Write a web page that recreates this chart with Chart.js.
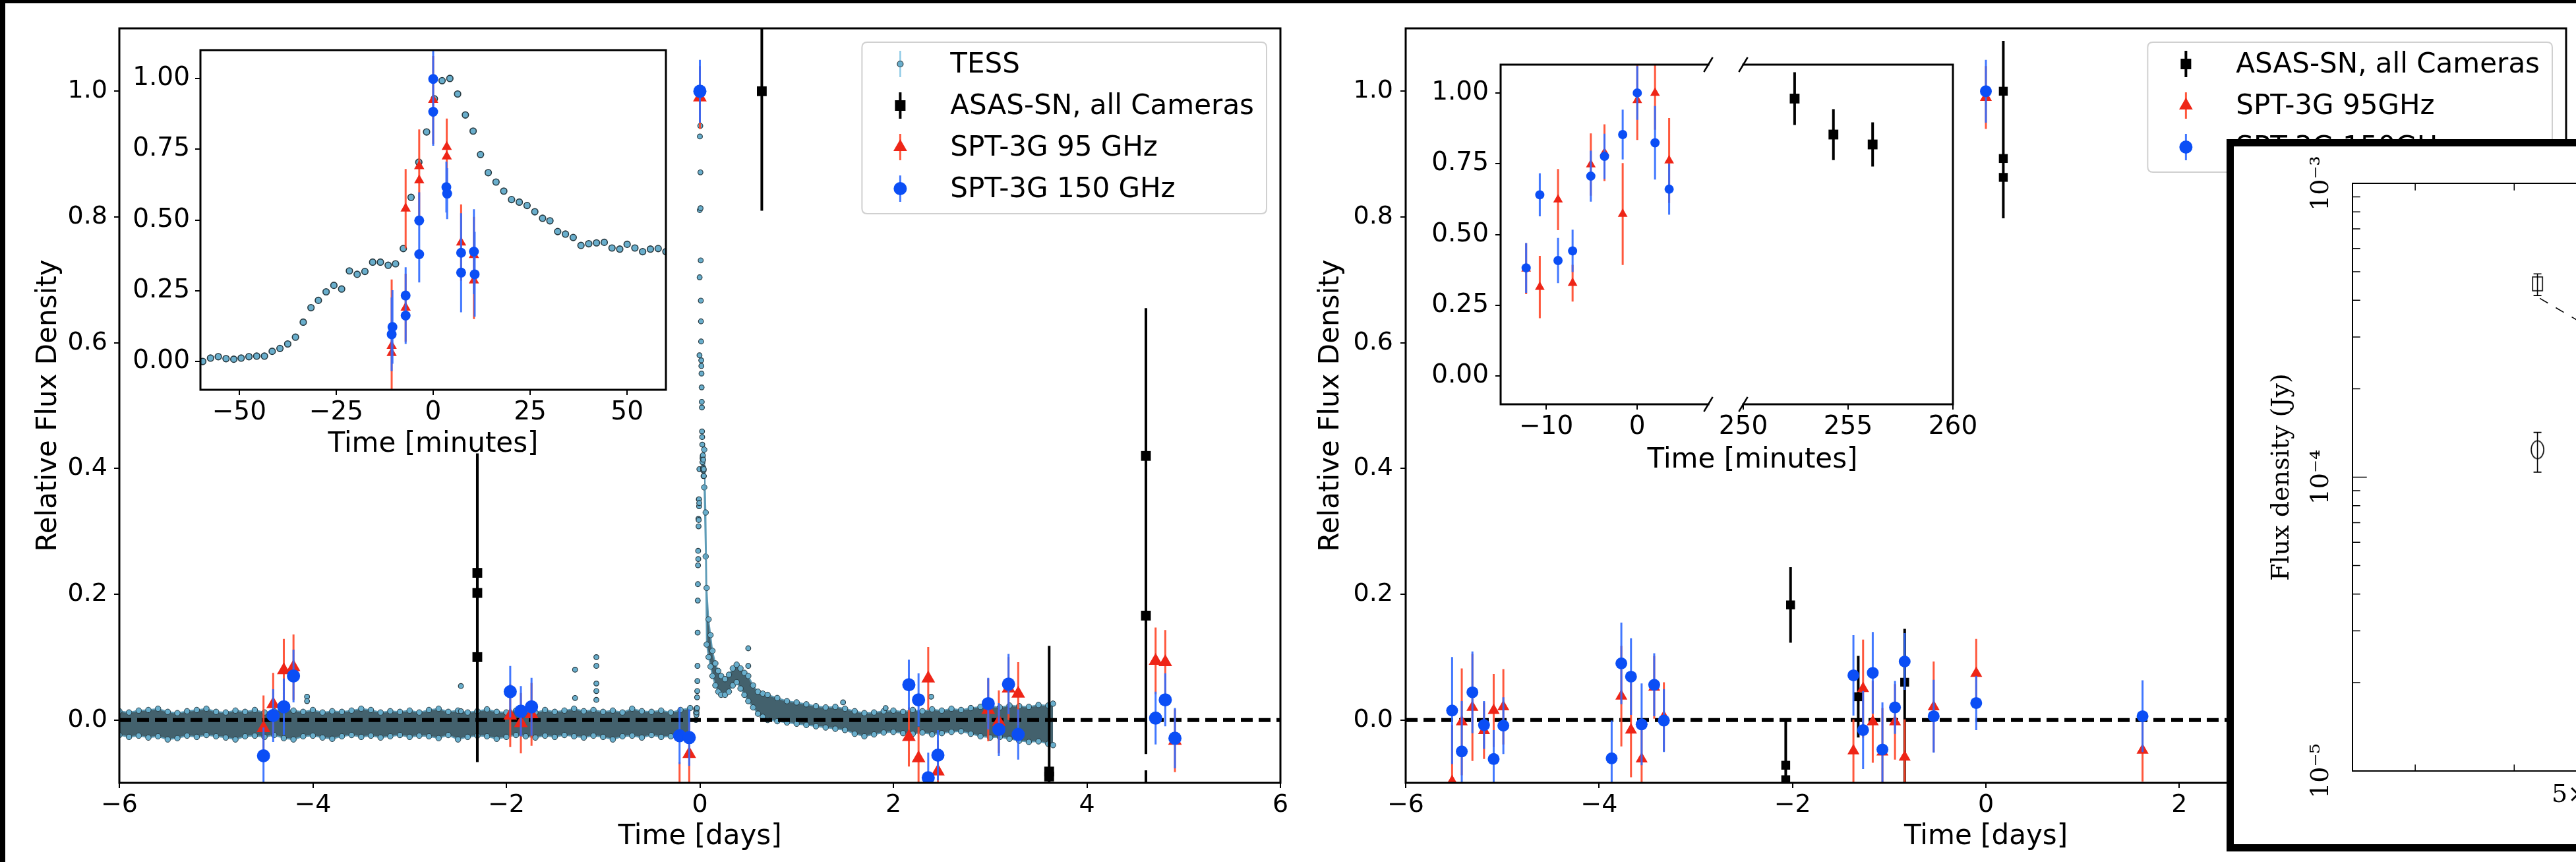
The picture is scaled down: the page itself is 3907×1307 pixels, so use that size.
<!DOCTYPE html>
<html>
<head>
<meta charset="utf-8">
<title>Flare light curves</title>
<script src="https://cdn.jsdelivr.net/npm/chart.js"></script>
<style>
  html, body { margin: 0; padding: 0; background: #fff; }
  body { position: relative; width: 3907px; height: 1307px; overflow: hidden; font-family: 'DejaVu Sans', sans-serif; }
  canvas { position: absolute; }
  .edge { position: absolute; background: #000; z-index: 30; }
  #sed { position: absolute; left: 3377px; top: 211px; width: 640px; height: 1058px; border: 11px solid #000; border-right: 0; background: #fff; overflow: hidden; z-index: 20; }
  #sed canvas { left: 0; top: 0; }
  #insetTitle { position: absolute; left: 2658px; top: 695px; transform: translate(-50%, -50%); font-size: 42px; line-height: 1; white-space: nowrap; color: #000; z-index: 5; }
</style>
</head>
<body>
<canvas id="mainL" width="1990" height="1307" style="left:0;top:0"></canvas>
<canvas id="mainR" width="1922" height="1307" style="left:1990px;top:0"></canvas>
<canvas id="insetL" width="840" height="674" style="left:190px;top:36px"></canvas>
<canvas id="insetRa" width="460" height="602" style="left:2160px;top:58px"></canvas>
<canvas id="insetRb" width="410" height="602" style="left:2600px;top:58px"></canvas>
<div id="insetTitle">Time [minutes]</div>
<div id="sed"><canvas id="sedChart" width="912" height="1058"></canvas></div>
<div class="edge" style="left:0;top:0;width:3907px;height:5px"></div>
<div class="edge" style="left:0;top:0;width:8px;height:1307px"></div>
<script>
// ---------- data: left panel (days) ----------
const tessBaseDay = [-6.0, -5.9, -5.8, -5.7, -5.6, -5.5, -5.4, -5.3, -5.2, -5.1,
  -5.0, -4.9, -4.8, -4.7, -4.6, -4.5, -4.4, -4.3, -4.2, -4.1,
  -4.0, -3.9, -3.8, -3.7, -3.6, -3.5, -3.4, -3.3, -3.2, -3.1,
  -3.0, -2.9, -2.8, -2.7, -2.6, -2.5, -2.4, -2.3, -2.2, -2.1,
  -2.0, -1.9, -1.8, -1.7, -1.6, -1.5, -1.4, -1.3, -1.2, -1.1,
  -1.0, -0.9, -0.8, -0.7, -0.6, -0.5, -0.4, -0.3, -0.2, -0.1];
const tessBaseHi = [0.014, 0.012, 0.015, 0.016, 0.018, 0.013, 0.011, 0.014, 0.016, 0.018,
  0.013, 0.012, 0.015, 0.013, 0.016, 0.012, 0.014, 0.018, 0.015, 0.013,
  0.016, 0.012, 0.014, 0.013, 0.015, 0.018, 0.016, 0.012, 0.014, 0.013,
  0.015, 0.012, 0.016, 0.018, 0.013, 0.015, 0.012, 0.014, 0.017, 0.013,
  0.012, 0.015, 0.014, 0.012, 0.016, 0.013, 0.015, 0.018, 0.014, 0.016,
  0.013, 0.015, 0.012, 0.018, 0.014, 0.013, 0.015, 0.012, 0.016, 0.019];
const tessBaseLo = [-0.024, -0.027, -0.025, -0.028, -0.026, -0.031, -0.029, -0.025, -0.027, -0.024,
  -0.026, -0.028, -0.031, -0.026, -0.025, -0.027, -0.024, -0.029, -0.031, -0.026,
  -0.025, -0.028, -0.030, -0.026, -0.024, -0.027, -0.025, -0.028, -0.026, -0.024,
  -0.027, -0.025, -0.026, -0.029, -0.024, -0.031, -0.027, -0.025, -0.026, -0.030,
  -0.027, -0.024, -0.026, -0.028, -0.025, -0.027, -0.024, -0.026, -0.028, -0.025,
  -0.027, -0.031, -0.026, -0.025, -0.028, -0.024, -0.027, -0.026, -0.029, -0.025];
const tessTailDay = [0.045, 0.06, 0.07, 0.09, 0.11, 0.13, 0.16, 0.19, 0.22, 0.26,
  0.30, 0.34, 0.38, 0.42, 0.46, 0.50, 0.55, 0.60, 0.65, 0.70,
  0.80, 0.90, 1.0, 1.1, 1.2, 1.3, 1.4, 1.5, 1.6, 1.7,
  1.8, 1.9, 2.0, 2.1, 2.2, 2.3, 2.4, 2.5, 2.6, 2.7,
  2.8, 2.9, 3.0, 3.1, 3.2, 3.3, 3.4, 3.5, 3.6, 3.65];
const tessTailHi = [0.43, 0.33, 0.21, 0.16, 0.135, 0.11, 0.09, 0.078, 0.07, 0.065,
  0.072, 0.082, 0.088, 0.082, 0.075, 0.07, 0.055, 0.045, 0.042, 0.04,
  0.035, 0.03, 0.028, 0.025, 0.022, 0.02, 0.021, 0.018, 0.014, 0.011,
  0.012, 0.014, 0.015, 0.013, 0.016, 0.014, 0.017, 0.015, 0.018, 0.016,
  0.019, 0.021, 0.022, 0.020, 0.023, 0.022, 0.021, 0.024, 0.023, 0.026];
const tessTailLo = [0.37, 0.26, 0.12, 0.10, 0.085, 0.07, 0.055, 0.045, 0.04, 0.04,
  0.045, 0.055, 0.06, 0.05, 0.04, 0.03, 0.02, 0.01, 0.005, 0.0,
  -0.002, -0.004, -0.006, -0.008, -0.010, -0.012, -0.014, -0.016, -0.022, -0.026,
  -0.023, -0.020, -0.019, -0.021, -0.022, -0.020, -0.023, -0.021, -0.019, -0.018,
  -0.022, -0.026, -0.028, -0.027, -0.030, -0.033, -0.035, -0.034, -0.038, -0.040];
const tessOutDay = [-4.06, -4.06, -2.47, -2.47, -1.29, -1.29, -1.07, -1.07, -1.07, -1.07, -1.07, 0.50, 0.50, 1.48, 1.92, 2.39];
const tessOutFlux = [0.037, 0.030, 0.054, 0.014, 0.080, 0.035, 0.100, 0.086, 0.058, 0.046, 0.032, 0.114, 0.086, 0.028, 0.019, 0.037];

// TESS around the peak, minutes from the flare
const tessMin = [-59.4, -57.4, -55.4, -53.4, -51.4, -49.5, -47.5, -45.5, -43.5, -41.5,
  -39.5, -37.5, -35.5, -33.5, -31.5, -29.6, -27.6, -25.6, -23.6, -21.6,
  -19.6, -17.6, -15.6, -13.6, -11.6, -9.7, -7.7, -5.7, -3.7, -1.7,
  0.3, 2.3, 4.3, 6.3, 8.3, 10.3, 12.2, 14.2, 16.2, 18.2,
  20.2, 22.2, 24.2, 26.2, 28.2, 30.1, 32.1, 34.1, 36.1, 38.1,
  40.1, 42.1, 44.1, 46.1, 48.1, 50.0, 52.0, 54.0, 56.0, 58.0, 60.0];
const tessFlux = [0.000, 0.012, 0.017, 0.010, 0.008, 0.012, 0.017, 0.019, 0.019, 0.036,
  0.046, 0.062, 0.086, 0.139, 0.190, 0.216, 0.246, 0.269, 0.256, 0.320,
  0.308, 0.318, 0.351, 0.351, 0.340, 0.345, 0.399, 0.580, 0.704, 0.811,
  0.928, 0.992, 1.000, 0.945, 0.871, 0.814, 0.731, 0.667, 0.634, 0.602,
  0.572, 0.563, 0.551, 0.529, 0.506, 0.497, 0.459, 0.450, 0.438, 0.410,
  0.416, 0.419, 0.421, 0.401, 0.397, 0.414, 0.401, 0.388, 0.397, 0.399, 0.388];

const asasDayL = [-2.30, -2.30, -2.30, 0.64, 3.61, 3.61, 4.61, 4.61, 4.61];
const asasFluxL = [0.234, 0.202, 0.100, 1.0, -0.082, -0.090, 0.420, 0.166, -0.30];
const asasErrL = [0.19, 0.20, 0.167, 0.19, 0.20, 0.20, 0.235, 0.22, 0.22];

const sptDayL = [-4.51, -4.41, -4.30, -4.20, -1.96, -1.85, -1.74, -0.21, -0.11, 0.0, 2.16, 2.26, 2.36, 2.46, 2.98, 3.09, 3.19, 3.29, 4.71, 4.81, 4.91];
const spt95FluxL = [-0.013, 0.025, 0.079, 0.084, 0.007, -0.005, 0.009, -0.125, -0.054, 0.99, -0.027, -0.061, 0.066, -0.082, 0.016, -0.003, 0.050, 0.042, 0.094, 0.092, -0.033];
const spt95ErrL = [0.052, 0.05, 0.05, 0.052, 0.05, 0.048, 0.05, 0.058, 0.05, 0.05, 0.047, 0.05, 0.05, 0.05, 0.05, 0.05, 0.05, 0.05, 0.053, 0.051, 0.05];
const spt150FluxL = [-0.057, 0.007, 0.021, 0.070, 0.045, 0.014, 0.021, -0.025, -0.028, 1.0, 0.056, 0.032, -0.092, -0.056, 0.026, -0.015, 0.057, -0.023, 0.003, 0.032, -0.029];
const spt150ErrL = [0.045, 0.042, 0.045, 0.042, 0.041, 0.04, 0.046, 0.045, 0.045, 0.05, 0.04, 0.042, 0.04, 0.04, 0.041, 0.042, 0.048, 0.04, 0.042, 0.042, 0.048];

const spt95MinL = [-10.7, -10.7, -7.1, -7.1, -3.6, -3.6, 0.0, 3.5, 3.5, 7.2, 10.5, 10.5];
const spt95InsetL = [0.055, 0.030, 0.540, 0.190, 0.690, 0.640, 0.924, 0.758, 0.724, 0.420, 0.376, 0.286];
const spt95InsetErrL = [0.235, 0.20, 0.14, 0.12, 0.13, 0.13, 0.155, 0.10, 0.10, 0.135, 0.135, 0.136];
const spt150MinL = [-10.7, -10.5, -7.1, -7.1, -3.6, -3.6, 0.0, 0.0, 3.4, 3.6, 7.2, 7.2, 10.5, 10.7];
const spt150InsetL = [0.096, 0.122, 0.233, 0.162, 0.498, 0.379, 0.998, 0.882, 0.616, 0.593, 0.384, 0.314, 0.388, 0.308];
const spt150InsetErrL = [0.13, 0.13, 0.10, 0.10, 0.10, 0.10, 0.12, 0.12, 0.09, 0.09, 0.14, 0.14, 0.15, 0.15];

// ---------- data: right panel ----------
const asasDayR = [-2.02, -2.07, -2.07, -1.32, -0.84, -0.84, 0.18, 0.18, 0.18];
const asasFluxR = [0.183, -0.072, -0.095, 0.037, 0.060, -0.13, 1.0, 0.893, 0.863];
const asasErrR = [0.06, 0.072, 0.07, 0.065, 0.085, 0.11, 0.08, 0.08, 0.065];
const spt95DayR = [-5.52, -5.42, -5.31, -5.19, -5.09, -4.99, -3.77, -3.67, -3.56, -3.43, -3.33, -1.37, -1.27, -1.17, -1.07, -0.94, -0.84, -0.54, -0.10, 0.0, 1.62];
const spt95FluxR = [-0.098, -0.003, 0.020, -0.017, 0.015, 0.021, 0.038, -0.016, -0.062, 0.052, 0.005, -0.049, 0.050, -0.003, -0.051, -0.003, -0.059, 0.021, 0.074, 0.99, -0.048];
const spt95ErrR = [0.09, 0.085, 0.085, 0.045, 0.058, 0.06, 0.08, 0.075, 0.06, 0.05, 0.055, 0.05, 0.078, 0.065, 0.07, 0.06, 0.06, 0.072, 0.055, 0.05, 0.05];
const spt150DayR = [-5.52, -5.42, -5.31, -5.19, -5.09, -4.99, -3.87, -3.77, -3.67, -3.56, -3.43, -3.33, -1.37, -1.27, -1.17, -1.07, -0.94, -0.84, -0.54, -0.10, 0.0, 1.62];
const spt150FluxR = [0.015, -0.050, 0.044, -0.008, -0.062, -0.009, -0.061, 0.090, 0.069, -0.007, 0.056, -0.001, 0.071, -0.016, 0.075, -0.047, 0.020, 0.093, 0.006, 0.027, 1.0, 0.006];
const spt150ErrR = [0.085, 0.08, 0.065, 0.038, 0.046, 0.045, 0.06, 0.065, 0.061, 0.065, 0.05, 0.05, 0.064, 0.062, 0.065, 0.075, 0.042, 0.045, 0.058, 0.043, 0.05, 0.057];

const sptMinR = [-12.2, -10.7, -8.7, -7.1, -5.1, -3.6, -1.6, 0.0, 1.95, 3.5];
const spt95InsetR = [0.379, 0.314, 0.623, 0.328, 0.747, 0.789, 0.572, 0.974, 1.0, 0.761];
const spt95InsetErrR = [0.09, 0.11, 0.108, 0.065, 0.11, 0.10, 0.18, 0.14, 0.13, 0.15];
const spt150InsetR = [0.382, 0.640, 0.408, 0.442, 0.706, 0.776, 0.853, 1.0, 0.824, 0.660];
const spt150InsetErrR = [0.088, 0.076, 0.08, 0.075, 0.09, 0.08, 0.088, 0.095, 0.13, 0.09];
const asasMinR = [252.45, 254.3, 256.17];
const asasInsetR = [0.98, 0.853, 0.818];
const asasInsetErrR = [0.093, 0.09, 0.078];

// ---------- data: radio spectrum overlay ----------
const sedFreq = [42.8];
const sedSquareFlux = [4.55e-4], sedSquareLo = [4.15e-4], sedSquareHi = [4.92e-4];
const sedCircleFlux = [1.24e-4], sedCircleLo = [1.04e-4], sedCircleHi = [1.42e-4];
const sedModelFreq = [43.1, 60];
const sedModelFlux = [4.06e-4, 2.41e-4];

// ---------- tick values ----------
const dayTicks = [-6, -4, -2, 0, 2, 4, 6];
const relTicks = [0, 0.2, 0.4, 0.6, 0.8, 1.0];
const insetRelTicks = [0, 0.25, 0.5, 0.75, 1.0];
const minTicksL = [-50, -25, 0, 25, 50];
const minTicksRa = [-10, 0];
const minTicksRb = [250, 255, 260];
const freqTicks = [30, 40, 50, 60, 70, 80];
const fluxTicks = [1e-5, 2e-5, 3e-5, 4e-5, 5e-5, 6e-5, 7e-5, 8e-5, 9e-5,
  1e-4, 2e-4, 3e-4, 4e-4, 5e-4, 6e-4, 7e-4, 8e-4, 9e-4, 1e-3];

// ---------- styling ----------
const SANS = "'DejaVu Sans', sans-serif";
const SERIF = "'DejaVu Serif', serif";
Chart.defaults.font.family = SANS;
Chart.defaults.color = '#000';

const TESS_FILL = '#69aecc', TESS_EDGE = '#26383f', TESS_BAND = '#43616d', TESS_LINE = '#5e9cb7';
const RED = '#ee2517', RED_BAR = 'rgba(255,70,40,0.9)';
const BLUE = '#0b4ef5', BLUE_BAR = 'rgba(45,105,255,0.9)';

const pts = (xs, ys, es) => xs.map((x, i) => ({x, y: ys[i], e: es ? es[i] : 0}));
const minus = v => String(v).replace('-', '\u2212');
const sup = {'-': '\u207b', '0': '\u2070', '1': '\u00b9', '2': '\u00b2', '3': '\u00b3', '4': '\u2074', '5': '\u2075'};
function powLabel(v) {
  const e = Math.log10(v);
  if (Math.abs(e - Math.round(e)) > 1e-6) return '';
  return '10' + String(Math.round(e)).split('').map(c => sup[c]).join('');
}

// ---------- plugins ----------
const errorBars = {
  id: 'errorBars',
  beforeDatasetDraw(chart, args) {
    const ds = chart.data.datasets[args.index];
    if (!ds.errorColor) return;
    const xs = chart.scales[args.meta.xAxisID], ys = chart.scales[args.meta.yAxisID];
    const a = chart.chartArea, ctx = chart.ctx, cap = ds.capWidth || 0;
    ctx.save();
    ctx.beginPath();
    ctx.rect(a.left, a.top, a.right - a.left, a.bottom - a.top);
    ctx.clip();
    ctx.strokeStyle = ds.errorColor;
    ctx.lineWidth = ds.errorWidth || 3;
    ctx.beginPath();
    ds.data.forEach(p => {
      const lo = p.lo !== undefined ? p.lo : p.y - p.e;
      const hi = p.hi !== undefined ? p.hi : p.y + p.e;
      const px = xs.getPixelForValue(p.x);
      const y0 = ys.getPixelForValue(lo), y1 = ys.getPixelForValue(hi);
      ctx.moveTo(px, y0); ctx.lineTo(px, y1);
      if (cap) {
        ctx.moveTo(px - cap, y0); ctx.lineTo(px + cap, y0);
        ctx.moveTo(px - cap, y1); ctx.lineTo(px + cap, y1);
      }
    });
    ctx.stroke();
    ctx.restore();
  }
};

const frame = {
  id: 'frame',
  beforeDraw(chart, args, o) {
    if (!o.fill) return;
    const a = chart.chartArea, ctx = chart.ctx;
    ctx.save();
    ctx.fillStyle = o.fill;
    ctx.fillRect(a.left, a.top, a.right - a.left, a.bottom - a.top);
    ctx.restore();
  },
  afterDraw(chart, args, o) {
    const a = chart.chartArea, ctx = chart.ctx, s = o.sides || 'ltrb';
    ctx.save();
    ctx.strokeStyle = '#000';
    ctx.lineWidth = o.width || 3;
    ctx.lineCap = 'square';
    ctx.beginPath();
    if (s.includes('l')) { ctx.moveTo(a.left, a.top); ctx.lineTo(a.left, a.bottom); }
    if (s.includes('r')) { ctx.moveTo(a.right, a.top); ctx.lineTo(a.right, a.bottom); }
    if (s.includes('t')) { ctx.moveTo(a.left, a.top); ctx.lineTo(a.right, a.top); }
    if (s.includes('b')) { ctx.moveTo(a.left, a.bottom); ctx.lineTo(a.right, a.bottom); }
    ctx.stroke();
    // broken-axis marks
    if (o.breakAt) {
      const x = o.breakAt === 'right' ? a.right : a.left;
      ctx.lineWidth = 2.5;
      ctx.beginPath();
      [a.top, a.bottom].forEach(y => { ctx.moveTo(x - 6, y + 10); ctx.lineTo(x + 6, y - 10); });
      ctx.stroke();
    }
    // inward ticks (radio spectrum)
    if (o.inward) {
      const {x, y} = chart.scales;
      ctx.lineWidth = 1.5;
      ctx.beginPath();
      x.ticks.forEach(t => {
        const px = x.getPixelForValue(t.value);
        if (px <= a.left || px >= a.right) return;
        ctx.moveTo(px, a.bottom); ctx.lineTo(px, a.bottom - 9);
        ctx.moveTo(px, a.top); ctx.lineTo(px, a.top + 10);
      });
      y.ticks.forEach(t => {
        const py = y.getPixelForValue(t.value);
        const len = powLabel(t.value) ? 21 : 11;
        ctx.moveTo(a.left, py); ctx.lineTo(a.left + len, py);
      });
      ctx.stroke();
    }
    ctx.restore();
  }
};

function drawKey(ctx, kind, x, y) {
  ctx.save();
  const bar = (c, w) => { ctx.strokeStyle = c; ctx.lineWidth = w; ctx.beginPath(); ctx.moveTo(x, y - 20); ctx.lineTo(x, y + 20); ctx.stroke(); };
  if (kind === 'tess') {
    bar('#8fcbe6', 2.5);
    ctx.beginPath(); ctx.arc(x, y, 4.5, 0, 2 * Math.PI);
    ctx.fillStyle = TESS_FILL; ctx.fill(); ctx.strokeStyle = TESS_EDGE; ctx.lineWidth = 1.2; ctx.stroke();
  } else if (kind === 'asas') {
    bar('#000', 4);
    ctx.fillStyle = '#000'; ctx.fillRect(x - 8, y - 8, 16, 16);
  } else if (kind === 'red') {
    bar(RED_BAR, 3);
    const r = 12;
    ctx.beginPath(); ctx.moveTo(x, y - r); ctx.lineTo(x + 0.866 * r, y + 0.5 * r); ctx.lineTo(x - 0.866 * r, y + 0.5 * r); ctx.closePath();
    ctx.fillStyle = RED; ctx.fill();
  } else {
    bar(BLUE_BAR, 3);
    ctx.beginPath(); ctx.arc(x, y, 10, 0, 2 * Math.PI); ctx.fillStyle = BLUE; ctx.fill();
  }
  ctx.restore();
}

const keyBox = {
  id: 'keyBox',
  afterDraw(chart, args, o) {
    if (!o.entries) return;
    const ctx = chart.ctx, a = chart.chartArea;
    ctx.save();
    ctx.font = '42px ' + SANS;
    const tw = Math.max(...o.entries.map(e => ctx.measureText(e.label).width));
    const w = 134 + tw + 19, h = o.entries.length * 63 + 8;
    const x0 = a.right - 21 - w, y0 = a.top + 21, r = 8;
    ctx.beginPath();
    ctx.moveTo(x0 + r, y0); ctx.lineTo(x0 + w - r, y0); ctx.quadraticCurveTo(x0 + w, y0, x0 + w, y0 + r);
    ctx.lineTo(x0 + w, y0 + h - r); ctx.quadraticCurveTo(x0 + w, y0 + h, x0 + w - r, y0 + h);
    ctx.lineTo(x0 + r, y0 + h); ctx.quadraticCurveTo(x0, y0 + h, x0, y0 + h - r);
    ctx.lineTo(x0, y0 + r); ctx.quadraticCurveTo(x0, y0, x0 + r, y0); ctx.closePath();
    ctx.fillStyle = 'rgba(255,255,255,0.85)'; ctx.fill();
    ctx.strokeStyle = '#d0d0d0'; ctx.lineWidth = 2; ctx.stroke();
    o.entries.forEach((e, i) => {
      const cy = y0 + 33 + i * 63;
      drawKey(ctx, e.kind, x0 + 58, cy);
      ctx.fillStyle = '#000'; ctx.textAlign = 'left'; ctx.textBaseline = 'middle';
      ctx.fillText(e.label, x0 + 134, cy + 2);
    });
    ctx.restore();
  }
};

// ---------- builders ----------
function axis(o) {
  const horizontal = o.pos === 'bottom';
  return {
    type: o.type || 'linear', position: o.pos, min: o.min, max: o.max, display: o.display !== false,
    afterBuildTicks: s => { s.ticks = o.ticks.map(v => ({value: v})); },
    afterFit: s => { if (horizontal) s.height = o.size; else s.width = o.size; },
    ticks: { autoSkip: false, padding: o.pad, font: {size: o.font, family: o.family}, color: '#000', callback: o.fmt,
      minRotation: o.rot || 0, maxRotation: o.rot || 0, crossAlign: o.cross || 'near' },
    grid: { display: !o.inward, drawOnChartArea: false, drawTicks: !o.inward, tickLength: 8, color: '#000', lineWidth: 2 },
    border: { display: false },
    title: o.title ? { display: true, text: o.title, color: '#000', font: {size: o.titleSize || 42, family: o.family}, padding: o.titlePad } : { display: false }
  };
}

function marks(data, color, style, r, order, bar, barW) {
  return { type: 'scatter', data, clip: 0, order, pointStyle: style, pointRadius: r, pointHoverRadius: r,
    backgroundColor: color, borderColor: color, borderWidth: 0, pointBorderWidth: 0,
    errorColor: bar, errorWidth: barW };
}

function makeChart(id, datasets, o) {
  return new Chart(document.getElementById(id), {
    type: 'scatter',
    data: { datasets },
    options: {
      responsive: false, animation: false, devicePixelRatio: 1, events: [],
      layout: { padding: o.padding },
      plugins: { legend: {display: false}, tooltip: {enabled: false}, frame: o.frame, keyBox: {entries: o.keys} },
      scales: { x: o.x, y: o.y }
    },
    plugins: [errorBars, frame, keyBox]
  });
}

function zeroLine() {
  return { type: 'line', data: [{x: dayTicks[0], y: 0}, {x: dayTicks[dayTicks.length - 1], y: 0}], clip: 0, order: 4,
    borderColor: '#000', borderWidth: 6, borderDash: [18, 9], pointRadius: 0, fill: false };
}

function tessEdge(xs, ys, fill) {
  return { type: 'line', data: pts(xs, ys), clip: 0, order: 6, tension: 0,
    borderColor: TESS_LINE, borderWidth: 2, pointRadius: 4.2, pointHoverRadius: 4.2,
    pointBackgroundColor: TESS_FILL, pointBorderColor: TESS_EDGE, pointBorderWidth: 1,
    fill: fill === undefined ? false : {target: fill}, backgroundColor: TESS_BAND };
}

const fmt1 = v => v.toFixed(1), fmt2 = v => v.toFixed(2);

// ---------- left panel ----------
makeChart('mainL', [
  tessEdge(tessBaseDay, tessBaseHi),
  tessEdge(tessBaseDay, tessBaseLo, 0),
  tessEdge(tessTailDay, tessTailHi),
  tessEdge(tessTailDay, tessTailLo, 2),
  { type: 'scatter', data: pts(tessMin.map(m => m / 1440), tessFlux).concat(pts(tessOutDay, tessOutFlux)), clip: 0, order: 5,
    pointRadius: 3.8, pointHoverRadius: 3.8, backgroundColor: TESS_FILL, borderColor: TESS_EDGE, pointBorderWidth: 1.2 },
  zeroLine(),
  marks(pts(asasDayL, asasFluxL, asasErrL), '#000', 'rect', 10.5, 3, '#000', 4),
  marks(pts(sptDayL, spt95FluxL, spt95ErrL), RED, 'triangle', 12, 2, RED_BAR, 3),
  marks(pts(sptDayL, spt150FluxL, spt150ErrL), BLUE, 'circle', 10, 1, BLUE_BAR, 3)
], {
  padding: {left: 0, top: 43, right: 48, bottom: 0},
  frame: {sides: 'ltrb', width: 3},
  keys: [{label: 'TESS', kind: 'tess'}, {label: 'ASAS-SN, all Cameras', kind: 'asas'},
         {label: 'SPT-3G 95 GHz', kind: 'red'}, {label: 'SPT-3G 150 GHz', kind: 'blue'}],
  x: axis({pos: 'bottom', min: -6, max: 6, ticks: dayTicks, fmt: minus, size: 120, pad: 3, font: 38,
           title: 'Time [days]', titlePad: {top: 0, bottom: 13}}),
  y: axis({pos: 'left', min: -0.1, max: 1.1, ticks: relTicks, fmt: fmt1, size: 181, pad: 10, font: 38,
           title: 'Relative Flux Density', titlePad: {top: 49, bottom: 0}})
});

makeChart('insetL', [
  { type: 'scatter', data: pts(tessMin, tessFlux), clip: 0, order: 3,
    pointRadius: 4.8, pointHoverRadius: 4.8, backgroundColor: TESS_FILL, borderColor: TESS_EDGE, pointBorderWidth: 1.6 },
  marks(pts(spt95MinL, spt95InsetL, spt95InsetErrL), RED, 'triangle', 9, 2, RED_BAR, 3),
  marks(pts(spt150MinL, spt150InsetL, spt150InsetErrL), BLUE, 'circle', 7.5, 1, BLUE_BAR, 3)
], {
  padding: {left: 0, top: 40, right: 20, bottom: 0},
  frame: {sides: 'ltrb', width: 3, fill: '#fff'},
  x: axis({pos: 'bottom', min: -60, max: 60, ticks: minTicksL, fmt: minus, size: 119, pad: 3, font: 39,
           title: 'Time [minutes]', titlePad: {top: 0, bottom: 11}}),
  y: axis({pos: 'left', min: -0.1, max: 1.1, ticks: insetRelTicks, fmt: fmt2, size: 114, pad: 8, font: 39})
});

// ---------- right panel ----------
makeChart('mainR', [
  zeroLine(),
  marks(pts(asasDayR, asasFluxR, asasErrR), '#000', 'rect', 9.5, 3, '#000', 4),
  marks(pts(spt95DayR, spt95FluxR, spt95ErrR), RED, 'triangle', 10.5, 2, RED_BAR, 3),
  marks(pts(spt150DayR, spt150FluxR, spt150ErrR), BLUE, 'circle', 9, 1, BLUE_BAR, 3)
], {
  padding: {left: 0, top: 43, right: 20, bottom: 0},
  frame: {sides: 'ltrb', width: 3},
  keys: [{label: 'ASAS-SN, all Cameras', kind: 'asas'}, {label: 'SPT-3G 95GHz', kind: 'red'},
         {label: 'SPT-3G 150GHz', kind: 'blue'}],
  x: axis({pos: 'bottom', min: -6, max: 6, ticks: dayTicks, fmt: minus, size: 120, pad: 3, font: 38,
           title: 'Time [days]', titlePad: {top: 0, bottom: 13}}),
  y: axis({pos: 'left', min: -0.1, max: 1.1, ticks: relTicks, fmt: fmt1, size: 142, pad: 11, font: 38,
           title: 'Relative Flux Density', titlePad: {top: 4, bottom: 0}})
});

makeChart('insetRa', [
  marks(pts(sptMinR, spt95InsetR, spt95InsetErrR), RED, 'triangle', 8.5, 2, RED_BAR, 3),
  marks(pts(sptMinR, spt150InsetR, spt150InsetErrR), BLUE, 'circle', 7, 1, BLUE_BAR, 3)
], {
  padding: {left: 0, top: 40, right: 29, bottom: 0},
  frame: {sides: 'ltb', width: 3, fill: '#fff', breakAt: 'right'},
  x: axis({pos: 'bottom', min: -15, max: 7.8, ticks: minTicksRa, fmt: minus, size: 47, pad: 3, font: 39}),
  y: axis({pos: 'left', min: -0.1, max: 1.1, ticks: insetRelTicks, fmt: fmt2, size: 116, pad: 10, font: 39})
});

makeChart('insetRb', [
  marks(pts(asasMinR, asasInsetR, asasInsetErrR), '#000', 'rect', 10.5, 1, '#000', 4)
], {
  padding: {left: 44, top: 40, right: 48, bottom: 0},
  frame: {sides: 'rtb', width: 3, fill: '#fff', breakAt: 'left'},
  x: axis({pos: 'bottom', min: 250, max: 260, ticks: minTicksRb, fmt: minus, size: 47, pad: 3, font: 39}),
  y: axis({pos: 'left', min: -0.1, max: 1.1, ticks: insetRelTicks, fmt: fmt2, size: 0, pad: 0, font: 39, display: false})
});

// ---------- radio spectrum overlay ----------
function hollow(kind, w, h) {
  const c = document.createElement('canvas');
  c.width = w + 4; c.height = h + 4;
  const g = c.getContext('2d');
  g.strokeStyle = '#000'; g.lineWidth = 1.6;
  g.beginPath();
  if (kind === 'rect') g.rect(2, 2, w, h);
  else g.ellipse(c.width / 2, c.height / 2, w / 2, h / 2, 0, 0, 2 * Math.PI);
  g.stroke();
  return c;
}
const sedPts = (ys, lo, hi) => sedFreq.map((x, i) => ({x, y: ys[i], lo: lo[i], hi: hi[i]}));

new Chart(document.getElementById('sedChart'), {
  type: 'scatter',
  data: { datasets: [
    { type: 'line', data: pts(sedModelFreq, sedModelFlux), clip: 0, order: 3, borderColor: '#000', borderWidth: 1.6,
      borderDash: [14, 14], pointRadius: 0, fill: false },
    { type: 'scatter', data: sedPts(sedSquareFlux, sedSquareLo, sedSquareHi), clip: 0, order: 1,
      pointStyle: hollow('rect', 15, 21), pointRadius: 8, errorColor: '#000', errorWidth: 1.6, capWidth: 6 },
    { type: 'scatter', data: sedPts(sedCircleFlux, sedCircleLo, sedCircleHi), clip: 0, order: 2,
      pointStyle: hollow('ellipse', 19, 27), pointRadius: 8, errorColor: '#000', errorWidth: 1.6, capWidth: 6 }
  ]},
  options: {
    responsive: false, animation: false, devicePixelRatio: 1, events: [],
    layout: { padding: {left: 0, top: 56, right: 125, bottom: 0} },
    plugins: { legend: {display: false}, tooltip: {enabled: false}, frame: {sides: 'ltb', width: 2, inward: true} },
    scales: {
      x: axis({type: 'logarithmic', pos: 'bottom', min: 25, max: 80, ticks: freqTicks, family: SERIF,
               fmt: v => (v === 50 ? '5\u00d710\u00b9' : ''), size: 111, pad: 14, font: 38, inward: true}),
      y: axis({type: 'logarithmic', pos: 'left', min: 1e-5, max: 1e-3, ticks: fluxTicks, family: SERIF,
               fmt: powLabel, size: 180, pad: 5, font: 38, rot: 90, cross: 'center', inward: true,
               title: 'Flux density (Jy)', titleSize: 38, titlePad: {top: 50, bottom: 0}})
    }
  },
  plugins: [errorBars, frame]
});
</script>
</body>
</html>
